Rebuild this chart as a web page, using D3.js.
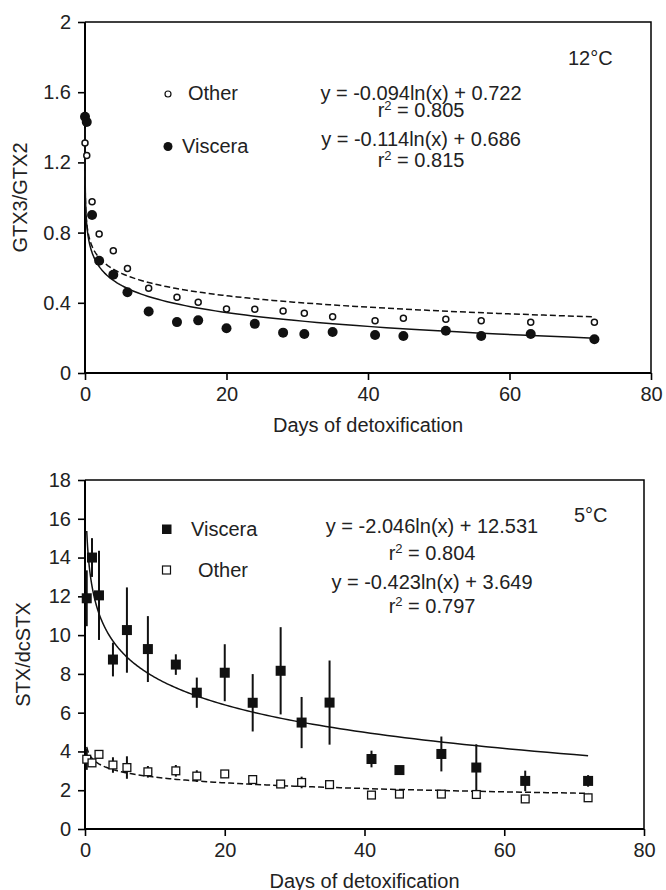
<!DOCTYPE html>
<html>
<head>
<meta charset="utf-8">
<script src="https://cdn.jsdelivr.net/npm/d3@7"></script>
<style>
  body { margin: 0; background: #fff; }
  svg { display: block; font-family: "Liberation Sans", Arial, sans-serif; }
</style>
</head>
<body>
<div id="container"></div>
<script>
const width = 666;
const height = 890;

// 12°C panel (top)
const topDays = [0, 0.25, 1, 2, 4, 6, 9, 13, 16, 20, 24, 28, 31, 35, 41, 45, 51, 56, 63, 72];
const topViscera = [1.46, 1.43, 0.90, 0.64, 0.56, 0.46, 0.35, 0.29, 0.30, 0.255, 0.28, 0.23, 0.222, 0.234, 0.217, 0.211, 0.241, 0.211, 0.222, 0.192];
const topOther = [1.31, 1.24, 0.976, 0.792, 0.697, 0.596, 0.483, 0.431, 0.403, 0.365, 0.363, 0.353, 0.340, 0.321, 0.298, 0.312, 0.306, 0.298, 0.289, 0.289];
const topFitOther = [-0.094, 0.722];
const topFitViscera = [-0.114, 0.686];
const topYTicks = [0, 0.4, 0.8, 1.2, 1.6, 2];
const topEquations = ["y = -0.094ln(x) + 0.722", "0.805", "y = -0.114ln(x) + 0.686", "0.815"];

// 5°C panel (bottom)
const botDays = [0.25, 1, 2, 4, 6, 9, 13, 16, 20, 24, 28, 31, 35, 41, 45, 51, 56, 63, 72];
const botViscera = [11.9, 14.0, 12.05, 8.74, 10.26, 9.28, 8.48, 7.03, 8.06, 6.51, 8.16, 5.49, 6.52, 3.61, 3.04, 3.87, 3.17, 2.48, 2.48];
const botVisceraSd = [1.44, 1.0, 2.3, 0.87, 2.2, 1.7, 0.53, 0.78, 1.47, 1.48, 2.25, 1.32, 2.17, 0.43, 0.2, 0.9, 1.2, 0.53, 0.3];
const botOther = [3.6, 3.41, 3.85, 3.30, 3.17, 2.95, 3.0, 2.73, 2.84, 2.55, 2.32, 2.40, 2.29, 1.75, 1.80, 1.80, 1.78, 1.55, 1.61];
const botOtherSd = [0.55, 0.1, 0.1, 0.4, 0.58, 0.3, 0.3, 0.3, 0.1, 0.1, 0.1, 0.3, 0.1, 0.1, 0.1, 0.1, 0.1, 0.1, 0.1];
const botFitViscera = [-2.046, 12.531];
const botFitOther = [-0.423, 3.649];
const botYTicks = [0, 2, 4, 6, 8, 10, 12, 14, 16, 18];
const botEquations = ["y = -2.046ln(x) + 12.531", "0.804", "y = -0.423ln(x) + 3.649", "0.797"];

const xTicks = [0, 20, 40, 60, 80];

const svg = d3.select("#container").append("svg")
  .attr("width", width)
  .attr("height", height);

function fitLine(fit, x0, x1) {
  // sample the log fit on a log-spaced grid so the steep start stays smooth
  const pts = d3.range(0, 201).map(i => x0 * Math.pow(x1 / x0, i / 200));
  return pts.map(x => [x, fit[0] * Math.log(x) + fit[1]]);
}

function drawPanel(opt) {
  const x = d3.scaleLinear().domain([0, 80]).range([85, opt.right]);
  const y = d3.scaleLinear().domain(opt.yDomain).range([opt.bottom, opt.top]);
  const g = svg.append("g");

  // frame top + right
  g.append("path")
    .attr("d", `M${x(0)},${y(opt.yDomain[1])}H${x(80)}V${y(0)}`)
    .attr("fill", "none").attr("stroke", "#000").attr("stroke-width", 1.5);

  const xAxis = g.append("g")
    .attr("transform", `translate(0,${y(0)})`)
    .call(d3.axisBottom(x).tickValues(xTicks).tickSize(7).tickPadding(7).tickFormat(d3.format("d")));
  const yAxis = g.append("g")
    .attr("transform", `translate(${x(0)},0)`)
    .call(d3.axisLeft(y).tickValues(opt.yTicks).tickSize(7).tickPadding(7).tickFormat(opt.fmt));
  [xAxis, yAxis].forEach(a => {
    a.select(".domain").remove();
    a.selectAll(".tick line").attr("stroke-width", 1.6);
    a.selectAll("text").attr("font-size", 20).attr("fill", "#222").style("font-family", "Liberation Sans, Arial, sans-serif");
  });
  g.append("line").attr("x1", x(0)).attr("x2", x(80)).attr("y1", y(0)).attr("y2", y(0))
    .attr("stroke", "#000").attr("stroke-width", 2);
  g.append("line").attr("x1", x(0)).attr("x2", x(0)).attr("y1", y(0) + 1).attr("y2", y(opt.yDomain[1]))
    .attr("stroke", "#000").attr("stroke-width", 2);

  g.append("text")
    .attr("x", (x(0) + x(80)) / 2).attr("y", y(0) + 58.5)
    .attr("text-anchor", "middle").attr("font-size", 20).attr("fill", "#222")
    .text("Days of detoxification");
  g.append("text")
    .attr("transform", `translate(${opt.labelX},${(y(0) + y(opt.yDomain[1])) / 2}) rotate(-90)`)
    .attr("text-anchor", "middle").attr("font-size", 20).attr("fill", "#222")
    .text(opt.yLabel);

  const line = d3.line().x(d => x(d[0])).y(d => y(d[1]));
  g.append("path").attr("d", line(fitLine(opt.fitDashed, opt.fitStart, 72)))
    .attr("fill", "none").attr("stroke", "#111").attr("stroke-width", 1.5)
    .attr("stroke-dasharray", "6,3");
  g.append("path").attr("d", line(fitLine(opt.fitSolid, opt.fitStart, 72)))
    .attr("fill", "none").attr("stroke", "#111").attr("stroke-width", 1.5);

  return { g, x, y };
}

function equationBlock(g, cx, ys, eqs) {
  eqs.forEach((t, i) => {
    const txt = g.append("text").attr("x", cx).attr("y", ys[i])
      .attr("text-anchor", "middle").attr("font-size", 20).attr("fill", "#222");
    if (i % 2 === 0) {
      txt.text(t);
    } else {
      txt.append("tspan").text("r");
      txt.append("tspan").attr("font-size", 13).attr("dy", -7).text("2");
      txt.append("tspan").attr("dy", 7).text(" = " + t);
    }
  });
}

// ---------- top panel ----------
const topPanel = drawPanel({
  right: 651, top: 22, bottom: 373, yDomain: [0, 2], yTicks: topYTicks,
  fmt: d => d === 0 || d === 2 ? String(d) : d3.format(".1f")(d),
  yLabel: "GTX3/GTX2", labelX: 27,
  fitDashed: topFitOther, fitSolid: topFitViscera, fitStart: 0.002
});

topPanel.g.selectAll(null).data(topDays).enter().append("circle")
  .attr("cx", d => topPanel.x(d)).attr("cy", (d, i) => topPanel.y(topOther[i]))
  .attr("r", 3).attr("fill", "#fff").attr("stroke", "#111").attr("stroke-width", 1.5);
topPanel.g.selectAll(null).data(topDays).enter().append("circle")
  .attr("cx", d => topPanel.x(d)).attr("cy", (d, i) => topPanel.y(topViscera[i]))
  .attr("r", 5).attr("fill", "#111");

// legend + equations
topPanel.g.append("circle").attr("cx", 168).attr("cy", 94).attr("r", 3)
  .attr("fill", "#fff").attr("stroke", "#111").attr("stroke-width", 1.2);
topPanel.g.append("text").attr("x", 188).attr("y", 100).attr("font-size", 20).attr("fill", "#222").text("Other");
topPanel.g.append("circle").attr("cx", 168).attr("cy", 146.5).attr("r", 4.5).attr("fill", "#111");
topPanel.g.append("text").attr("x", 182).attr("y", 153).attr("font-size", 20).attr("fill", "#222").text("Viscera");
topPanel.g.append("text").attr("x", 568).attr("y", 65).attr("font-size", 20).attr("fill", "#222").text("12°C");
equationBlock(topPanel.g, 421, [100, 117, 146, 167], topEquations);

// ---------- bottom panel ----------
const botPanel = drawPanel({
  right: 644, top: 480, bottom: 829, yDomain: [0, 18], yTicks: botYTicks,
  fmt: d3.format("d"),
  yLabel: "STX/dcSTX", labelX: 30,
  fitDashed: botFitOther, fitSolid: botFitViscera, fitStart: 0.25
});

function errorBars(vals, sds) {
  botPanel.g.selectAll(null).data(botDays).enter().append("line")
    .attr("x1", d => botPanel.x(d)).attr("x2", d => botPanel.x(d))
    .attr("y1", (d, i) => botPanel.y(vals[i] + sds[i]))
    .attr("y2", (d, i) => botPanel.y(vals[i] - sds[i]))
    .attr("stroke", "#111").attr("stroke-width", 2);
}
errorBars(botOther, botOtherSd);
errorBars(botViscera, botVisceraSd);

botPanel.g.selectAll(null).data(botDays).enter().append("rect")
  .attr("x", d => botPanel.x(d) - 3.9).attr("y", (d, i) => botPanel.y(botOther[i]) - 3.9)
  .attr("width", 7.8).attr("height", 7.8)
  .attr("fill", "#fff").attr("stroke", "#111").attr("stroke-width", 1.3);
botPanel.g.selectAll(null).data(botDays).enter().append("rect")
  .attr("x", d => botPanel.x(d) - 5).attr("y", (d, i) => botPanel.y(botViscera[i]) - 5)
  .attr("width", 10).attr("height", 10).attr("fill", "#111");

botPanel.g.append("rect").attr("x", 162).attr("y", 524.5).attr("width", 9.5).attr("height", 9.5).attr("fill", "#111");
botPanel.g.append("text").attr("x", 191).attr("y", 535.5).attr("font-size", 20).attr("fill", "#222").text("Viscera");
botPanel.g.append("rect").attr("x", 162.5).attr("y", 566).attr("width", 8).attr("height", 8)
  .attr("fill", "#fff").attr("stroke", "#111").attr("stroke-width", 1.2);
botPanel.g.append("text").attr("x", 198).attr("y", 576.5).attr("font-size", 20).attr("fill", "#222").text("Other");
botPanel.g.append("text").attr("x", 574).attr("y", 521.5).attr("font-size", 20).attr("fill", "#222").text("5°C");
equationBlock(botPanel.g, 432, [533, 560, 589, 613], botEquations);
</script>
</body>
</html>
